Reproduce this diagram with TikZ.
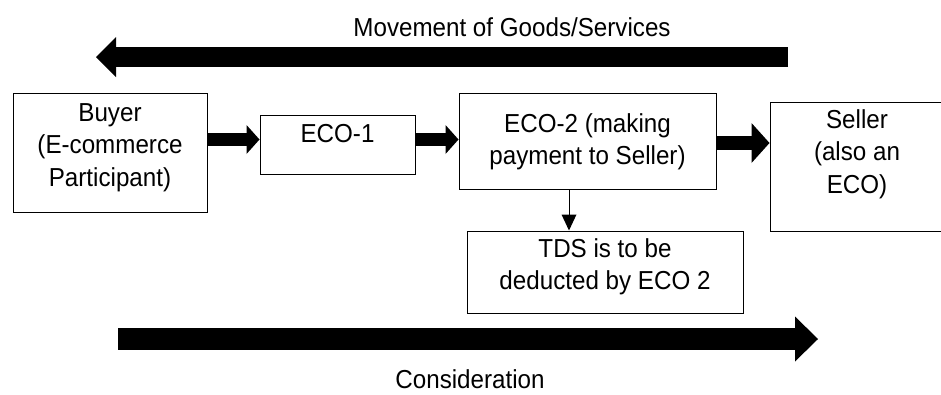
\documentclass[tikz,border=0pt]{standalone}
\usepackage{fontspec}
\setmainfont{Liberation Sans}[FakeStretch=0.93]
\usetikzlibrary{arrows.meta}
\begin{document}
\begin{tikzpicture}[x=1pt,y=-1pt,
  box/.style={draw, line width=1pt, inner sep=0pt},
  lbl/.style={font=\fontsize{26}{32.5}\selectfont, align=center, inner sep=0pt},
  fatarrow/.style={line width=13pt, -{Triangle[length=13pt,width=29pt,line width=0pt]}},
]
\useasboundingbox (0,0) rectangle (941,394);

% boxes
\node[box, minimum width=194pt, minimum height=119pt] (buyer)  at (110,152.5)  {};
\node[box, minimum width=155pt, minimum height=59pt]  (eco1)   at (337.5,144.5) {};
\node[box, minimum width=257pt, minimum height=96pt]  (eco2)   at (587.5,141)  {};
\node[box, minimum width=276pt, minimum height=82pt]  (tds)    at (605,272)    {};
\node[box, minimum width=172pt, minimum height=129pt] (seller) at (856,166.5)  {};

% box texts
\node[lbl, anchor=north] (buyer-t)  at (110,103.2) {Buyer\\(E-commerce\\Participant)};
\node[lbl, anchor=north] (eco1-t)   at (337.5,124.2) {ECO-1};
\node[lbl, anchor=north] (eco2-t)   at (587.5,113.2) {ECO-2 (making\\payment to Seller)};
\node[lbl, anchor=north] (tds-t)    at (605,238.2) {TDS is to be\\deducted by ECO 2};
\node[lbl, anchor=north] (seller-t) at (857,109.2) {Seller\\(also an\\ECO)};

% captions of the flows
\node[lbl, anchor=base] (goods) at (512,36)  {Movement of Goods/Services};
\node[lbl, anchor=base] (cons)  at (470,388) {Consideration};

% rows for the block arrows between boxes
\coordinate (rowA) at (0,139.5);
\coordinate (rowB) at (0,143);
\coordinate (colD) at (569,0);

\draw[fatarrow] (buyer.east |- rowA) -- (eco1.west |- rowA);
\draw[fatarrow] (eco1.east |- rowA) -- (eco2.west |- rowA);
\draw[line width=14pt, -{Triangle[length=18pt,width=40pt,line width=0pt]}]
  (eco2.east |- rowB) -- (seller.west |- rowB);

% thin arrow down to the TDS box
\draw[line width=1pt, -{Triangle[length=16pt,width=15pt,line width=0pt]}]
  (eco2.south -| colD) -- (tds.north -| colD);

% goods flow (right to left) and consideration flow (left to right)
\coordinate (goodsFrom) at (788,57);
\coordinate (goodsTo)   at (96,57);
\draw[line width=20pt, -{Triangle[length=20pt,width=40pt,line width=0pt]}]
  (goodsFrom) -- (goodsTo);

\coordinate (consFrom) at (118,339);
\coordinate (consTo)   at (818,339);
\draw[line width=22pt, -{Triangle[length=23pt,width=45pt,line width=0pt]}]
  (consFrom) -- (consTo);
\end{tikzpicture}
\end{document}
